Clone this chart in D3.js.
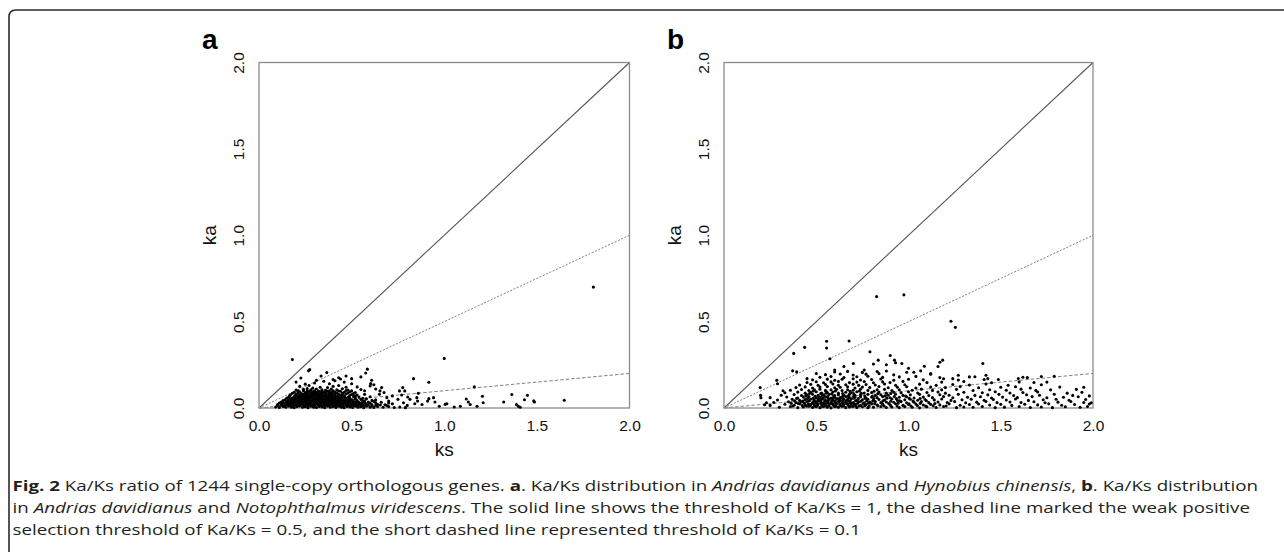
<!DOCTYPE html>
<html>
<head>
<meta charset="utf-8">
<script src="https://cdn.jsdelivr.net/npm/d3@7"></script>
<style>
	body { margin: 0; background: #fff; }
	svg { display: block; }
</style>
</head>
<body>
<svg id="fig" width="1284" height="552"></svg>
<script>
// axis ticks shared by both panels (ks and ka both run 0..2)
var tickValues = [0, 0.5, 1, 1.5, 2]
var tickLabels = ['0.0', '0.5', '1.0', '1.5', '2.0']
// Ka/Ks threshold lines: solid, dashed, short dashed
var thresholds = [1, 0.5, 0.1]
var panelLetters = ['a', 'b']

// panel a : Andrias davidianus vs Hynobius chinensis, [ks, ka]
var panelA = [
	[0.18,0.281],[1.805,0.70],[1.0,0.287],[0.834,0.17],[0.917,0.149],[1.162,0.122],[0.576,0.203],[0.585,0.225],
	[0.267,0.215],[0.274,0.222],[0.226,0.174],[0.366,0.205],[1.648,0.045],[1.487,0.035],[1.483,0.041],[1.433,0.048],
	[1.449,0.074],[1.365,0.078],[1.321,0.035],[1.39,0.02],[1.40,0.01],[1.41,0.004],[1.206,0.068],[1.21,0.03],
	[1.177,0.01],[1.119,0.052],[1.13,0.035],[1.14,0.02],[1.087,0.01],[1.054,0.006],[1.005,0.021],[1.014,0.025],
	[0.973,0.01],[0.942,0.06],[0.917,0.054],[0.91,0.04],[0.852,0.06],[0.856,0.04],[0.841,0.025],[0.776,0.118],
	[0.787,0.099],[0.758,0.099],[0.803,0.064],[0.815,0.05],[0.77,0.075],[0.75,0.05],[0.78,0.03],[0.8,0.015],
	[0.662,0.118],[0.653,0.099],[0.608,0.161],[0.603,0.141],[0.62,0.135],[0.72,0.07],[0.7,0.04],[0.69,0.06],
	[0.86,0.085],[0.88,0.02],[0.95,0.035],[0.47,0.185],[0.43,0.175],[0.4,0.165],[0.335,0.185],[0.31,0.16],
	[0.2,0.15],[0.55,0.18],[0.5,0.17],[0.65,0.08],[0.675,0.09],
	[0.09,0.006],[0.11,0.003],[0.13,0.009],[0.145,0.004],[0.16,0.011],[0.175,0.005],[0.19,0.002],[0.205,0.008],
	[0.22,0.012],[0.235,0.004],[0.25,0.007],[0.265,0.002],[0.28,0.01],[0.295,0.005],[0.31,0.003],[0.325,0.009],
	[0.34,0.006],[0.355,0.002],[0.37,0.011],[0.385,0.004],[0.4,0.008],[0.415,0.003],[0.43,0.01],[0.445,0.005],
	[0.46,0.002],[0.475,0.009],[0.49,0.006],[0.505,0.003],[0.52,0.011],[0.535,0.004],[0.55,0.008],[0.565,0.002],
	[0.58,0.01],[0.6,0.005],[0.62,0.003],[0.64,0.009],[0.67,0.004],[0.7,0.008],[0.73,0.003],[0.76,0.006],[0.79,0.002],
	[0.1,0.014],[0.118,0.016],[0.137,0.013],[0.152,0.017],[0.168,0.015],[0.182,0.013],[0.197,0.016],[0.212,0.014],
	[0.228,0.017],[0.242,0.013],[0.258,0.015],[0.272,0.016],[0.288,0.014],[0.302,0.013],[0.318,0.017],[0.332,0.015],
	[0.348,0.014],[0.362,0.016],[0.378,0.013],[0.392,0.017],[0.408,0.015],[0.422,0.014],[0.438,0.016],[0.452,0.013],
	[0.468,0.017],[0.482,0.015],[0.498,0.014],[0.512,0.016],[0.528,0.013],[0.542,0.017],[0.558,0.015],[0.572,0.014],
	[0.59,0.016],[0.61,0.013],[0.63,0.015],[0.655,0.017],[0.69,0.014],
	[0.1,0.02],[0.125,0.025],[0.14,0.018],[0.155,0.024],[0.17,0.02],[0.185,0.027],[0.2,0.019],[0.215,0.023],
	[0.23,0.026],[0.245,0.018],[0.26,0.022],[0.275,0.025],[0.29,0.019],[0.305,0.024],[0.32,0.021],[0.335,0.026],
	[0.35,0.018],[0.365,0.023],[0.38,0.02],[0.395,0.025],[0.41,0.019],[0.425,0.022],[0.44,0.026],[0.455,0.018],
	[0.47,0.024],[0.485,0.021],[0.5,0.025],[0.515,0.019],[0.53,0.022],[0.545,0.026],[0.56,0.02],[0.58,0.023],
	[0.61,0.018],[0.64,0.022],[0.68,0.019],[0.72,0.024],
	[0.11,0.029],[0.132,0.031],[0.147,0.028],[0.162,0.03],[0.178,0.029],[0.192,0.032],[0.208,0.028],[0.222,0.03],
	[0.238,0.031],[0.252,0.028],[0.268,0.03],[0.282,0.029],[0.298,0.032],[0.312,0.028],[0.328,0.03],[0.342,0.031],
	[0.358,0.029],[0.372,0.028],[0.388,0.031],[0.402,0.03],[0.418,0.029],[0.432,0.032],[0.448,0.028],[0.462,0.03],
	[0.478,0.031],[0.492,0.029],[0.508,0.028],[0.522,0.031],[0.538,0.03],[0.552,0.029],[0.57,0.031],[0.6,0.028],
	[0.63,0.03],[0.7,0.029],
	[0.12,0.034],[0.15,0.038],[0.165,0.032],[0.18,0.037],[0.195,0.035],[0.21,0.04],[0.225,0.033],[0.24,0.036],
	[0.255,0.039],[0.27,0.032],[0.285,0.037],[0.3,0.034],[0.315,0.04],[0.33,0.035],[0.345,0.032],[0.36,0.038],
	[0.375,0.036],[0.39,0.033],[0.405,0.039],[0.42,0.034],[0.435,0.037],[0.45,0.032],[0.465,0.038],[0.48,0.035],
	[0.495,0.033],[0.51,0.039],[0.525,0.036],[0.54,0.032],[0.56,0.037],[0.59,0.034],[0.62,0.038],[0.66,0.033],
	[0.13,0.043],[0.158,0.044],[0.172,0.042],[0.188,0.045],[0.202,0.043],[0.218,0.042],[0.232,0.044],[0.248,0.043],
	[0.262,0.045],[0.278,0.042],[0.292,0.044],[0.308,0.043],[0.322,0.042],[0.338,0.045],[0.352,0.043],[0.368,0.044],
	[0.382,0.042],[0.398,0.045],[0.412,0.043],[0.428,0.042],[0.442,0.044],[0.458,0.043],[0.472,0.045],[0.488,0.042],
	[0.505,0.044],[0.53,0.043],[0.57,0.042],[0.61,0.044],
	[0.14,0.048],[0.17,0.052],[0.185,0.047],[0.2,0.053],[0.215,0.049],[0.23,0.051],[0.245,0.054],[0.26,0.047],
	[0.275,0.05],[0.29,0.053],[0.305,0.048],[0.32,0.051],[0.335,0.054],[0.35,0.047],[0.365,0.05],[0.38,0.052],
	[0.395,0.048],[0.41,0.053],[0.425,0.049],[0.44,0.051],[0.455,0.047],[0.47,0.054],[0.485,0.05],[0.5,0.048],
	[0.52,0.052],[0.55,0.049],[0.58,0.053],[0.63,0.047],
	[0.15,0.057],[0.178,0.058],[0.193,0.056],[0.208,0.059],[0.222,0.057],[0.238,0.056],[0.252,0.058],[0.268,0.057],
	[0.282,0.059],[0.298,0.056],[0.312,0.058],[0.328,0.057],[0.342,0.056],[0.358,0.059],[0.372,0.057],[0.388,0.058],
	[0.402,0.056],[0.418,0.059],[0.432,0.057],[0.448,0.056],[0.465,0.058],[0.49,0.057],[0.52,0.059],[0.56,0.056],
	[0.16,0.062],[0.19,0.066],[0.205,0.061],[0.22,0.065],[0.235,0.063],[0.25,0.067],[0.265,0.062],[0.28,0.064],
	[0.295,0.068],[0.31,0.061],[0.325,0.065],[0.34,0.063],[0.355,0.067],[0.37,0.062],[0.385,0.066],[0.4,0.064],
	[0.415,0.061],[0.43,0.067],[0.445,0.063],[0.46,0.065],[0.48,0.062],[0.51,0.066],[0.54,0.063],[0.6,0.065],
	[0.165,0.071],[0.195,0.072],[0.212,0.07],[0.228,0.073],[0.242,0.071],[0.258,0.07],[0.272,0.072],[0.288,0.071],
	[0.302,0.073],[0.318,0.07],[0.332,0.072],[0.348,0.071],[0.362,0.07],[0.378,0.073],[0.395,0.071],[0.41,0.072],
	[0.425,0.07],[0.44,0.073],[0.46,0.071],[0.49,0.072],[0.52,0.07],
	[0.17,0.077],[0.2,0.08],[0.22,0.076],[0.24,0.079],[0.255,0.082],[0.27,0.076],[0.285,0.079],[0.3,0.081],
	[0.315,0.077],[0.33,0.08],[0.345,0.083],[0.36,0.076],[0.375,0.079],[0.39,0.082],[0.41,0.077],[0.43,0.08],
	[0.45,0.076],[0.47,0.081],[0.5,0.078],[0.53,0.075],[0.57,0.079],
	[0.18,0.085],[0.21,0.087],[0.23,0.084],[0.26,0.086],[0.28,0.085],[0.3,0.087],[0.32,0.084],[0.34,0.086],
	[0.36,0.085],[0.38,0.087],[0.4,0.084],[0.42,0.086],[0.45,0.085],[0.48,0.087],[0.51,0.084],
	[0.19,0.091],[0.22,0.094],[0.25,0.09],[0.27,0.095],[0.29,0.092],[0.31,0.089],[0.33,0.094],[0.35,0.091],
	[0.37,0.096],[0.39,0.09],[0.41,0.093],[0.44,0.097],[0.46,0.091],[0.49,0.094],[0.52,0.09],
	[0.21,0.099],[0.24,0.1],[0.26,0.098],[0.28,0.101],[0.3,0.099],[0.32,0.1],[0.34,0.098],[0.36,0.101],
	[0.38,0.099],[0.4,0.1],[0.43,0.098],[0.47,0.101],[0.5,0.099],
	[0.2,0.104],[0.24,0.108],[0.28,0.105],[0.31,0.11],[0.34,0.106],[0.36,0.103],[0.39,0.109],[0.42,0.105],
	[0.45,0.111],[0.48,0.104],[0.55,0.107],[0.29,0.115],[0.37,0.118],[0.4,0.125],[0.47,0.12],[0.26,0.112],
	[0.22,0.125],[0.27,0.13],[0.33,0.12],[0.38,0.14],[0.41,0.158],[0.43,0.13],[0.46,0.15],[0.5,0.14],
	[0.53,0.122],[0.35,0.155],[0.3,0.145],[0.25,0.138],[0.44,0.168],[0.6,0.128],[0.63,0.11],[0.57,0.1]
]

// panel b : Andrias davidianus vs Notophthalmus viridescens, [ks, ka]
var panelB = [
	[0.827,0.645],[0.975,0.655],[1.23,0.502],[1.254,0.467],[0.378,0.316],[0.437,0.351],[0.556,0.386],[0.556,0.347],
	[0.678,0.388],[0.791,0.326],[0.901,0.304],[0.924,0.277],[0.93,0.262],[0.964,0.258],[0.574,0.285],[0.836,0.277],
	[0.81,0.255],[0.701,0.258],[1.185,0.277],[1.17,0.265],[1.16,0.24],[1.403,0.258],[1.029,0.207],[1.066,0.215],
	[1.086,0.242],[1.79,0.184],[0.196,0.118],[0.198,0.074],[0.2,0.06],[0.372,0.215],[0.394,0.209],[0.286,0.161],
	[0.29,0.14],[1.644,0.176],[1.595,0.171],[1.487,0.165],[1.42,0.19],[1.43,0.17],[1.33,0.18],[1.27,0.19],
	[1.24,0.17],[1.75,0.15],[1.95,0.12],[1.98,0.07],[1.99,0.03],[0.23,0.03],[0.25,0.015],[0.32,0.1],
	[0.5,0.2],[0.65,0.24],[0.76,0.22],[0.88,0.25],[1.0,0.23],[1.12,0.2],[0.6,0.22],[0.45,0.17],
	[0.30,0.004],[0.36,0.008],[0.40,0.002],[0.43,0.006],[0.46,0.01],[0.48,0.003],[0.5,0.007],[0.52,0.002],
	[0.54,0.009],[0.56,0.005],[0.58,0.001],[0.6,0.008],[0.62,0.004],[0.64,0.01],[0.66,0.002],[0.68,0.006],
	[0.7,0.009],[0.72,0.003],[0.75,0.007],[0.78,0.002],[0.81,0.005],[0.85,0.009],[0.88,0.003],[0.91,0.006],
	[0.95,0.002],[0.98,0.008],[1.02,0.004],[1.06,0.001],[1.1,0.007],[1.15,0.003],[1.19,0.009],[1.26,0.002],
	[1.3,0.006],[1.35,0.004],[1.4,0.008],[1.47,0.002],[1.52,0.005],[1.6,0.009],[1.66,0.003],[1.72,0.006],
	[1.78,0.002],[1.85,0.007],[1.93,0.004],[1.97,0.009],
	[0.373,0.012],[0.424,0.014],[0.447,0.011],[0.468,0.013],[0.493,0.012],[0.507,0.014],[0.531,0.011],[0.552,0.013],
	[0.568,0.012],[0.594,0.014],[0.607,0.011],[0.633,0.013],[0.648,0.012],[0.674,0.014],[0.689,0.011],[0.713,0.013],
	[0.731,0.012],[0.764,0.014],[0.787,0.011],[0.834,0.013],[0.868,0.012],[0.903,0.014],[0.938,0.011],[0.972,0.013],
	[1.013,0.012],[1.048,0.014],[1.093,0.011],[1.134,0.013],[1.204,0.012],
	[0.22,0.019],[0.33,0.022],[0.38,0.016],[0.41,0.024],[0.44,0.018],[0.47,0.021],[0.49,0.015],[0.51,0.023],
	[0.53,0.019],[0.55,0.025],[0.57,0.017],[0.59,0.021],[0.61,0.024],[0.63,0.016],[0.65,0.02],[0.67,0.023],
	[0.69,0.018],[0.71,0.022],[0.74,0.015],[0.77,0.02],[0.8,0.024],[0.83,0.017],[0.86,0.021],[0.9,0.019],
	[0.93,0.025],[0.97,0.016],[1.0,0.02],[1.04,0.023],[1.08,0.017],[1.12,0.021],[1.17,0.018],[1.22,0.024],
	[1.28,0.016],[1.33,0.02],[1.38,0.023],[1.44,0.017],[1.5,0.021],[1.56,0.015],[1.63,0.022],[1.7,0.018],
	[1.76,0.024],[1.83,0.016],[1.9,0.02],[1.98,0.023],
	[0.364,0.027],[0.403,0.026],[0.436,0.028],[0.457,0.025],[0.484,0.027],[0.503,0.026],[0.526,0.028],[0.543,0.025],
	[0.566,0.027],[0.583,0.026],[0.604,0.028],[0.627,0.025],[0.643,0.027],[0.664,0.026],[0.686,0.028],[0.703,0.025],
	[0.724,0.027],[0.754,0.026],[0.783,0.028],[0.817,0.025],[0.857,0.027],[0.893,0.026],[0.944,0.028],[1.003,0.025],
	[1.064,0.027],[1.143,0.026],
	[0.27,0.032],[0.35,0.036],[0.39,0.03],[0.42,0.035],[0.45,0.038],[0.48,0.031],[0.5,0.034],[0.52,0.039],
	[0.54,0.032],[0.56,0.036],[0.58,0.03],[0.6,0.035],[0.62,0.038],[0.64,0.031],[0.66,0.034],[0.68,0.037],
	[0.7,0.032],[0.73,0.036],[0.76,0.03],[0.79,0.034],[0.82,0.038],[0.85,0.031],[0.88,0.035],[0.92,0.033],
	[0.96,0.037],[0.99,0.03],[1.03,0.034],[1.07,0.038],[1.11,0.031],[1.16,0.035],[1.21,0.032],[1.25,0.037],
	[1.31,0.03],[1.37,0.034],[1.42,0.038],[1.48,0.031],[1.55,0.035],[1.61,0.032],[1.68,0.036],[1.74,0.03],
	[1.81,0.034],[1.88,0.038],[1.95,0.032],
	[0.383,0.041],[0.428,0.04],[0.463,0.042],[0.487,0.039],[0.508,0.041],[0.524,0.04],[0.546,0.042],[0.563,0.039],
	[0.584,0.041],[0.603,0.04],[0.626,0.042],[0.645,0.039],[0.663,0.041],[0.684,0.04],[0.713,0.042],[0.742,0.039],
	[0.773,0.041],[0.806,0.04],[0.862,0.042],[0.904,0.039],[0.953,0.041],[1.024,0.04],[1.097,0.042],
	[0.29,0.046],[0.37,0.05],[0.41,0.044],[0.44,0.049],[0.47,0.052],[0.49,0.045],[0.51,0.048],[0.53,0.051],
	[0.55,0.044],[0.57,0.049],[0.59,0.047],[0.61,0.052],[0.63,0.045],[0.65,0.05],[0.67,0.047],[0.69,0.053],
	[0.72,0.044],[0.75,0.048],[0.78,0.051],[0.81,0.045],[0.84,0.049],[0.87,0.046],[0.91,0.052],[0.94,0.044],
	[0.98,0.048],[1.01,0.051],[1.05,0.045],[1.09,0.049],[1.14,0.047],[1.18,0.052],[1.23,0.044],[1.29,0.048],
	[1.34,0.051],[1.41,0.045],[1.46,0.049],[1.53,0.046],[1.58,0.052],[1.65,0.044],[1.73,0.048],[1.8,0.051],
	[1.87,0.045],[1.96,0.049],
	[0.394,0.056],[0.453,0.055],[0.484,0.057],[0.513,0.054],[0.536,0.056],[0.564,0.055],[0.593,0.057],[0.617,0.054],
	[0.642,0.056],[0.673,0.055],[0.703,0.057],[0.728,0.054],[0.764,0.056],[0.812,0.055],[0.883,0.057],[0.934,0.054],
	[1.004,0.056],[1.063,0.055],
	[0.25,0.06],[0.34,0.064],[0.4,0.058],[0.43,0.063],[0.46,0.066],[0.5,0.059],[0.52,0.062],[0.55,0.065],
	[0.58,0.058],[0.6,0.063],[0.63,0.06],[0.66,0.066],[0.68,0.059],[0.71,0.062],[0.74,0.065],[0.77,0.058],
	[0.8,0.063],[0.83,0.06],[0.86,0.066],[0.9,0.059],[0.95,0.062],[0.99,0.065],[1.03,0.058],[1.08,0.063],
	[1.13,0.06],[1.19,0.066],[1.24,0.059],[1.32,0.062],[1.39,0.065],[1.45,0.058],[1.51,0.063],[1.59,0.06],
	[1.67,0.066],[1.75,0.059],[1.84,0.062],[1.92,0.065],
	[0.443,0.069],[0.494,0.068],[0.533,0.07],[0.562,0.067],[0.594,0.069],[0.643,0.068],[0.674,0.07],[0.703,0.067],
	[0.763,0.069],[0.804,0.068],[0.874,0.07],[0.923,0.067],[0.984,0.069],
	[0.31,0.074],[0.38,0.078],[0.42,0.072],[0.45,0.077],[0.48,0.08],[0.51,0.073],[0.54,0.076],[0.57,0.079],
	[0.6,0.072],[0.62,0.077],[0.65,0.074],[0.68,0.08],[0.71,0.073],[0.74,0.076],[0.78,0.079],[0.82,0.072],
	[0.85,0.077],[0.89,0.074],[0.93,0.08],[0.97,0.073],[1.01,0.076],[1.06,0.079],[1.11,0.072],[1.17,0.077],
	[1.22,0.074],[1.27,0.08],[1.36,0.073],[1.43,0.076],[1.49,0.079],[1.57,0.072],[1.64,0.077],[1.71,0.074],
	[1.79,0.08],[1.89,0.073],
	[0.463,0.084],[0.524,0.083],[0.553,0.085],[0.584,0.082],[0.643,0.084],[0.703,0.083],[0.744,0.085],[0.833,0.082],
	[0.904,0.084],
	[0.33,0.088],[0.4,0.092],[0.44,0.086],[0.47,0.091],[0.5,0.094],[0.53,0.087],[0.56,0.09],[0.59,0.093],
	[0.62,0.086],[0.66,0.091],[0.69,0.088],[0.72,0.094],[0.76,0.087],[0.8,0.09],[0.84,0.093],[0.88,0.086],
	[0.92,0.091],[0.96,0.088],[1.0,0.094],[1.05,0.087],[1.1,0.09],[1.16,0.093],[1.2,0.086],[1.3,0.091],
	[1.4,0.088],[1.47,0.094],[1.55,0.087],[1.62,0.09],[1.7,0.093],[1.86,0.086],[1.94,0.091],
	[0.484,0.098],[0.553,0.097],[0.604,0.099],[0.683,0.096],[0.734,0.098],[0.813,0.097],
	[0.36,0.103],[0.42,0.107],[0.46,0.101],[0.49,0.106],[0.52,0.109],[0.55,0.102],[0.58,0.105],[0.61,0.108],
	[0.64,0.101],[0.67,0.106],[0.7,0.103],[0.74,0.109],[0.78,0.102],[0.83,0.105],[0.87,0.108],[0.91,0.101],
	[0.95,0.106],[1.02,0.103],[1.07,0.109],[1.13,0.102],[1.18,0.105],[1.26,0.108],[1.35,0.101],[1.44,0.106],
	[1.53,0.103],[1.61,0.109],[1.69,0.102],[1.77,0.105],[1.91,0.108],
	[0.39,0.118],[0.44,0.122],[0.48,0.116],[0.52,0.121],[0.56,0.124],[0.6,0.117],[0.63,0.12],[0.67,0.123],
	[0.71,0.116],[0.75,0.121],[0.79,0.118],[0.84,0.124],[0.89,0.117],[0.94,0.12],[0.99,0.123],[1.04,0.116],
	[1.12,0.121],[1.2,0.118],[1.28,0.124],[1.38,0.117],[1.5,0.12],[1.58,0.123],[1.66,0.116],[1.82,0.121],
	[0.41,0.133],[0.47,0.137],[0.51,0.131],[0.55,0.136],[0.59,0.139],[0.62,0.132],[0.66,0.135],[0.7,0.138],
	[0.73,0.131],[0.77,0.136],[0.82,0.133],[0.87,0.139],[0.93,0.132],[0.98,0.135],[1.06,0.138],[1.15,0.131],
	[1.24,0.136],[1.33,0.133],[1.42,0.139],[1.54,0.132],[1.72,0.135],
	[0.45,0.148],[0.5,0.152],[0.54,0.146],[0.58,0.151],[0.62,0.154],[0.68,0.147],[0.72,0.15],[0.76,0.153],
	[0.81,0.146],[0.86,0.151],[0.9,0.148],[0.97,0.154],[1.1,0.147],[1.18,0.15],[1.3,0.153],[1.45,0.146],
	[1.6,0.151],[1.68,0.148],
	[0.48,0.163],[0.56,0.167],[0.6,0.161],[0.64,0.166],[0.7,0.169],[0.74,0.162],[0.8,0.165],[0.85,0.168],
	[0.92,0.161],[1.0,0.166],[1.08,0.163],[1.19,0.169],[1.27,0.162],[1.41,0.165],
	[0.52,0.178],[0.58,0.182],[0.65,0.176],[0.72,0.181],[0.78,0.184],[0.86,0.177],[0.95,0.18],[1.04,0.183],
	[1.17,0.176],[1.36,0.181],[1.62,0.178],[1.72,0.182],
	[0.55,0.193],[0.63,0.197],[0.7,0.191],[0.77,0.196],[0.84,0.199],[0.92,0.192],[1.12,0.195],
	[0.6,0.208],[0.67,0.212],[0.75,0.206],[0.83,0.211],[0.88,0.214],[0.99,0.207]
]

// caption, one array per line: [text, style]  (b = bold, i = italic)
var captionLines = [
	[['Fig. 2', 'b'], [' Ka/Ks ratio of 1244 single-copy orthologous genes. ', ''], ['a', 'b'],
	 ['. Ka/Ks distribution in ', ''], ['Andrias davidianus', 'i'], [' and ', ''], ['Hynobius chinensis', 'i'],
	 [', ', ''], ['b', 'b'], ['. Ka/Ks distribution', '']],
	[['in ', ''], ['Andrias davidianus', 'i'], [' and ', ''], ['Notophthalmus viridescens', 'i'],
	 ['. The solid line shows the threshold of Ka/Ks = 1, the dashed line marked the weak positive', '']],
	[['selection threshold of Ka/Ks = 0.5, and the short dashed line represented threshold of Ka/Ks = 0.1', '']]
]

var svg = d3.select('#fig')
var plotTop = 62.5
var plotBottom = 408
var panelLeft = [259, 724]
var panelRight = [629.5, 1093]

// figure frame: top rule + left rule with rounded corner
svg.append('path')
	.attr('d', 'M1284,10 L16,10 Q9,10 9,17 L9,552')
	.attr('fill', 'none')
	.attr('stroke', '#2b2b2b')
	.attr('stroke-width', 1.6)

function drawPanel(data, i) {
	var left = panelLeft[i], right = panelRight[i]
	var x = d3.scaleLinear().domain([0, 2]).range([left, right])
	var y = d3.scaleLinear().domain([0, 2]).range([plotBottom, plotTop])
	var g = svg.append('g').attr('font-family', '"Liberation Sans", Arial, sans-serif')

	// threshold lines from the origin
	g.selectAll('.thr').data(thresholds).enter().append('line')
		.attr('class', 'thr')
		.attr('x1', x(0)).attr('y1', y(0))
		.attr('x2', x(2)).attr('y2', function(d) { return y(2 * d) })
		.attr('stroke', function(d, j) { return j == 0 ? '#555' : '#808080' })
		.attr('stroke-width', function(d, j) { return j == 0 ? 1.1 : 1 })
		.attr('stroke-dasharray', function(d, j) { return j == 0 ? null : (j == 1 ? '2,1.6' : '3.5,2') })

	// box
	g.append('rect')
		.attr('x', left).attr('y', y(2))
		.attr('width', right - left).attr('height', y(0) - y(2))
		.attr('fill', 'none').attr('stroke', '#8c8c8c').attr('stroke-width', 1.3)

	// points
	g.selectAll('circle').data(data).enter().append('circle')
		.attr('cx', function(d) { return x(d[0]) })
		.attr('cy', function(d) { return y(d[1]) })
		.attr('r', 1.55)
		.attr('fill', '#000')

	// x axis
	var xAxis = g.append('g')
		.attr('transform', 'translate(0,' + plotBottom + ')')
		.call(d3.axisBottom(x).tickValues(tickValues).tickSize(0).tickPadding(12)
			.tickFormat(function(d, k) { return tickLabels[k] }))
	xAxis.select('.domain').remove()
	xAxis.selectAll('text').attr('font-size', 15.5).attr('fill', '#111').attr('font-family', null)

	// y axis, labels rotated like R's default
	var yAxis = g.append('g')
		.attr('transform', 'translate(' + left + ',0)')
		.call(d3.axisLeft(y).tickValues(tickValues).tickSize(0)
			.tickFormat(function(d, k) { return tickLabels[k] }))
	yAxis.select('.domain').remove()
	yAxis.selectAll('text')
		.attr('x', 0).attr('dy', '0.35em')
		.attr('transform', 'translate(-20,0) rotate(-90)')
		.attr('text-anchor', 'middle')
		.attr('font-size', 15.5).attr('fill', '#111').attr('font-family', null)

	// axis titles
	g.append('text')
		.attr('x', x(1)).attr('y', 456)
		.attr('text-anchor', 'middle')
		.attr('font-size', 19).attr('fill', '#111')
		.text('ks')
	g.append('text')
		.attr('transform', 'translate(' + (left - 50) + ',' + y(1) + ') rotate(-90)')
		.attr('dy', '0.35em')
		.attr('text-anchor', 'middle')
		.attr('font-size', 19).attr('fill', '#111')
		.text('ka')

	// panel letter
	g.append('text')
		.attr('x', left - 57).attr('y', 49)
		.attr('font-size', 28).attr('font-weight', 'bold').attr('fill', '#000')
		.text(panelLetters[i])
}

drawPanel(panelA, 0)
drawPanel(panelB, 1)

// caption: fit the free last line by horizontal scale, justify the two full lines
var captionTargets = [1245.5, 1237.5, 849]
var captionX = 12.5
var cap = svg.append('g')
	.attr('font-family', '"Open Sans", "Noto Sans", sans-serif')
	.attr('fill', '#231f20')
	.attr('font-size', 15)

var capText = cap.selectAll('text').data(captionLines).enter().append('text')
	.attr('x', 0).attr('y', 0)
capText.selectAll('tspan').data(function(d) { return d }).enter().append('tspan')
	.attr('font-weight', function(d) { return d[1] == 'b' ? 'bold' : null })
	.attr('font-style', function(d) { return d[1] == 'i' ? 'italic' : null })
	.text(function(d) { return d[0] })

var sx = captionTargets[2] / capText.nodes()[2].getComputedTextLength()
capText.each(function(d, k) {
	var t = d3.select(this)
		.attr('transform', 'translate(' + captionX + ',' + (491 + k * 22) + ') scale(' + sx + ',1)')
	if (k < 2) t.attr('textLength', captionTargets[k] / sx).attr('lengthAdjust', 'spacing')
})
</script>
</body>
</html>
